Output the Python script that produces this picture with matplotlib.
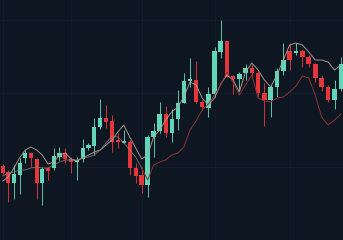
import numpy as np
import matplotlib
matplotlib.use("Agg")
import matplotlib.pyplot as plt
from matplotlib.ticker import MultipleLocator, NullFormatter

# candle data (arbitrary price units), one entry per session
opens = [22.2, 20.3, 17.2, 19.5, 24.5, 26.0, 24.4, 17.2, 21.6, 21.7,
         25.0, 26.2, 24.2, 23.5, 24.2, 27.5, 28.3, 33.8, 36.7, 35.7,
         30.0, 29.2, 29.5, 21.5, 19.5, 16.5, 31.0, 32.7, 37.8, 32.0,
         36.3, 41.2, 47.7, 48.0, 41.5, 39.7, 43.7, 56.5, 59.7, 49.2,
         48.2, 50.0, 51.6, 50.2, 44.2, 42.0, 46.0, 50.8, 56.8, 56.0,
         56.8, 54.9, 52.8, 48.6, 46.0, 42.0, 45.2]
closes = [20.0, 17.2, 19.7, 23.0, 26.0, 24.5, 17.2, 21.2, 20.8, 25.2,
          26.2, 24.2, 23.5, 24.0, 27.5, 28.5, 33.8, 36.7, 35.5, 29.5,
          29.4, 29.6, 21.5, 19.3, 16.5, 31.0, 32.7, 37.8, 32.0, 36.4,
          41.2, 47.8, 48.2, 41.5, 39.8, 43.7, 56.7, 59.7, 49.0, 48.2,
          49.9, 51.6, 50.0, 44.2, 42.0, 46.0, 50.8, 54.0, 54.0, 56.8,
          55.0, 52.8, 48.6, 45.8, 42.0, 45.2, 52.8]
highs = [22.8, 21.0, 22.5, 24.5, 27.0, 26.5, 24.5, 22.0, 22.0, 27.5,
         28.0, 27.5, 24.8, 25.0, 30.2, 29.0, 36.5, 42.2, 40.5, 37.5,
         32.0, 33.0, 30.0, 23.0, 22.0, 31.5, 35.2, 41.4, 40.2, 39.2,
         45.0, 50.0, 54.5, 53.8, 42.0, 46.0, 58.0, 66.0, 59.7, 49.5,
         50.5, 52.8, 52.8, 50.5, 47.0, 46.5, 51.5, 59.0, 59.0, 59.0,
         57.2, 55.5, 53.0, 49.5, 46.5, 48.0, 55.0]
lows = [19.8, 11.5, 12.3, 13.8, 23.0, 22.0, 12.3, 10.5, 18.0, 21.0,
        24.0, 23.0, 20.2, 18.0, 23.5, 27.0, 25.5, 33.2, 33.5, 26.5,
        27.5, 29.0, 19.5, 17.0, 14.0, 13.0, 25.0, 32.0, 30.8, 29.4,
        33.0, 41.0, 45.8, 41.2, 39.0, 36.8, 43.0, 54.5, 48.8, 43.8,
        45.0, 48.0, 49.0, 43.0, 34.2, 37.0, 43.0, 49.5, 51.0, 55.5,
        52.0, 52.0, 47.5, 44.8, 41.5, 39.2, 44.8]

# moving average lines
ma_fast = [17.7, 18.9, 21.6, 24.6, 27.0, 27.9, 27.0, 25.5, 22.8, 23.4,
           25.5, 26.1, 24.3, 23.7, 24.6, 25.5, 26.4, 27.0, 28.5, 30.0,
           32.4, 34.5, 30.9, 27.6, 24.3, 25.5, 30.9, 33.0, 36.0, 38.4,
           39.9, 42.9, 47.4, 46.5, 42.6, 40.5, 42.6, 46.8, 49.5, 48.0,
           44.4, 50.4, 53.1, 51.0, 48.0, 45.9, 49.5, 54.0, 58.5, 59.1,
           58.5, 56.4, 54.0, 54.0, 53.4, 51.0, 52.5]
ma_slow = [19.2, 20.1, 20.4, 21.0, 21.0, 21.6, 21.9, 21.6, 21.6, 22.5,
           23.4, 24.0, 24.0, 24.0, 24.6, 24.9, 25.5, 27.0, 29.1, 31.2,
           30.9, 29.1, 27.0, 24.9, 21.6, 18.0, 22.5, 23.4, 24.0, 25.5,
           26.1, 27.9, 33.0, 35.7, 39.0, 40.8, 43.5, 46.5, 50.4, 47.4,
           43.5, 46.5, 49.5, 42.6, 41.7, 41.4, 42.6, 42.9, 44.4, 46.2,
           49.2, 48.6, 43.5, 36.9, 34.5, 36.0, 37.8]

BG = '#0e1621'
UP = '#62d6b8'
DOWN = '#e5363b'

idx = np.arange(len(opens))
o = np.array(opens)
c = np.array(closes)
up = c >= o

# slight perspective in the picture: spacing widens to the right
A, B = 5.6, 0.00784


def fwd(x):
    x = np.asarray(x, dtype=float)
    return A * x + B * x * x


def inv(y):
    y = np.asarray(y, dtype=float)
    return (-A + np.sqrt(np.clip(A * A + 4 * B * y, 0, None))) / (2 * B)


fig = plt.figure(figsize=(3.43, 2.40), dpi=100)
fig.patch.set_facecolor(BG)
ax = fig.add_axes([0, 0, 1, 1])
ax.set_facecolor(BG)
ax.set_xscale('function', functions=(fwd, inv))

colors = np.where(up, UP, DOWN)
ax.vlines(idx, lows, highs, colors=colors, linewidth=0.7, alpha=0.9, zorder=2)
ax.bar(idx, np.abs(c - o), bottom=np.minimum(o, c), width=0.72,
       color=colors, linewidth=0, zorder=3)

ax.plot(idx, ma_fast, color='#b0a292', linewidth=0.7, alpha=0.9, zorder=4)
ax.plot(idx[:25], ma_slow[:25], color='#8f8378', linewidth=0.6, alpha=0.85, zorder=4)
ax.plot(idx[24:], ma_slow[24:], color='#8c3333', linewidth=0.7, zorder=4)

ax.set_xlim(-0.48, 56.31)
ax.set_ylim(0, 72)

ax.xaxis.set_major_locator(MultipleLocator(12))
ax.yaxis.set_major_locator(MultipleLocator(22))
ax.xaxis.set_major_formatter(NullFormatter())
ax.yaxis.set_major_formatter(NullFormatter())
ax.tick_params(length=0)
ax.grid(True, color='#152030', linewidth=0.5)
ax.set_axisbelow(True)
for s in ax.spines.values():
    s.set_visible(False)

fig.savefig('out.png', dpi=100, facecolor=BG)
